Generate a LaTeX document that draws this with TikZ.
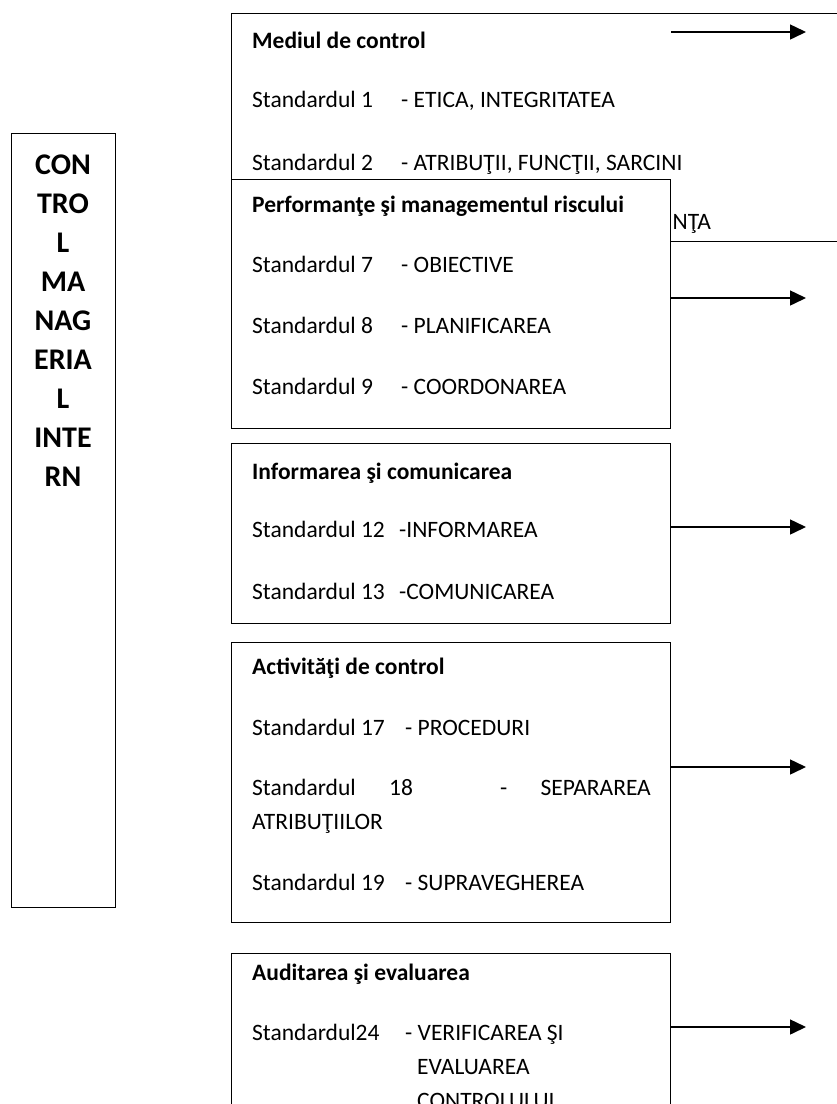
\documentclass[tikz,border=0pt]{standalone}
\usepackage{fontspec}
\setmainfont{Carlito}
\usetikzlibrary{arrows.meta}
\begin{document}
\begin{tikzpicture}[x=1pt,y=-1pt,
  frame/.style={draw=black, line width=1.3pt, fill=white, inner sep=0pt, anchor=north west},
  body/.style={anchor=west, inner sep=0pt, text height=15.1pt, text depth=0pt,
    font=\fontsize{23.5}{28}\selectfont},
  title/.style={body, font=\fontsize{23.5}{28}\selectfont\bfseries},
  side/.style={inner sep=0pt, text height=19.3pt, text depth=0pt,
    font=\fontsize{30}{36}\selectfont\bfseries},
  link/.style={line width=1.5pt, -{Triangle[length=16pt,width=15pt]}}
]
\clip (0,0) rectangle (837,1104);
\fill[white] (0,0) rectangle (837,1104);

% left column: the overall heading
\node[frame, minimum width=104pt, minimum height=774pt] (cmi) at (11,133) {};
\foreach \w [count=\i from 0] in {CON,TRO,L,MA,NAG,ERIA,L,INTE,RN}
  \node[side] (cmi\i) at (63,165+39*\i) {\w};

% component 1: control environment (partly covered by component 2)
\node[frame, minimum width=650pt, minimum height=228pt] (env) at (231,13) {};
\node[title] (envT) at (252,41) {Mediul de control};
\node[body] (s1) at (252,100) {Standardul 1};
\node[body] (s1d) at (401,100) {- ETICA, INTEGRITATEA};
\node[body] (s2) at (252,163) {Standardul 2};
\node[body] (s2d) at (401,163) {- ATRIBUŢII, FUNCŢII, SARCINI};
\node[body] (s3d) at (672.5,222) {NŢA};

% component 2: performance and risk management
\node[frame, minimum width=439pt, minimum height=249pt] (perf) at (231,179) {};
\node[title] (perfT) at (252,205) {Performanţe şi managementul riscului};
\node[body] (s7) at (252,265) {Standardul 7};
\node[body] (s7d) at (401,265) {- OBIECTIVE};
\node[body] (s8) at (252,326) {Standardul 8};
\node[body] (s8d) at (401,326) {- PLANIFICAREA};
\node[body] (s9) at (252,387) {Standardul 9};
\node[body] (s9d) at (401,387) {- COORDONAREA};

% component 3: information and communication
\node[frame, minimum width=439pt, minimum height=180pt] (info) at (231,443) {};
\node[title] (infoT) at (252,472) {Informarea şi comunicarea};
\node[body] (s12) at (252,530) {Standardul 12};
\node[body] (s12d) at (399,530) {-INFORMAREA};
\node[body] (s13) at (252,592) {Standardul 13};
\node[body] (s13d) at (399,592) {-COMUNICAREA};

% component 4: control activities
\node[frame, minimum width=439pt, minimum height=280pt] (act) at (231,642) {};
\node[title] (actT) at (252,667) {Activităţi de control};
\node[body] (s17) at (252,728) {Standardul 17};
\node[body] (s17d) at (405,728) {- PROCEDURI};
\node[body] (s18a) at (252,788) {Standardul};
\node[body] (s18b) at (389,788) {18};
\node[body] (s18c) at (500,788) {-};
\node[body, anchor=east] (s18d) at (651,788) {SEPARAREA};
\node[body] (s18e) at (252,822) {ATRIBUŢIILOR};
\node[body] (s19) at (252,883) {Standardul 19};
\node[body] (s19d) at (405,883) {- SUPRAVEGHEREA};

% component 5: audit and evaluation
\node[frame, minimum width=439pt, minimum height=200pt] (aud) at (231,953) {};
\node[title] (audT) at (252,973) {Auditarea şi evaluarea};
\node[body] (s24) at (252,1033) {Standardul24};
\node[body] (s24d) at (405,1033) {- VERIFICAREA ŞI};
\node[body] (s24e) at (417,1067) {EVALUAREA};
\node[body] (s24f) at (417,1101) {CONTROLULUI};

% outgoing arrows
\coordinate (o1) at (806,32);
\coordinate (o2) at (806,298);
\coordinate (o3) at (806,527);
\coordinate (o4) at (806,767);
\coordinate (o5) at (806,1027);
\draw[link] (perf.east |- o1) -- (o1);
\draw[link] (perf.east |- o2) -- (o2);
\draw[link] (info.east |- o3) -- (o3);
\draw[link] (act.east |- o4) -- (o4);
\draw[link] (aud.east |- o5) -- (o5);
\end{tikzpicture}
\end{document}
